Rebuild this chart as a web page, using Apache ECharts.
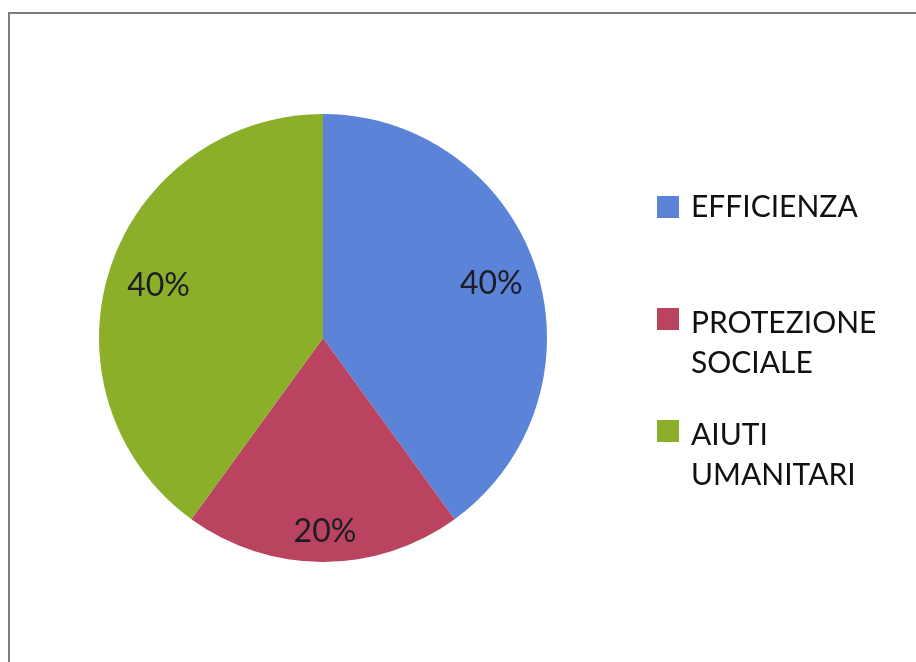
<!DOCTYPE html>
<html>
<head>
<meta charset="utf-8">
<script src="https://cdn.jsdelivr.net/npm/echarts@6/dist/echarts.min.js"></script>
<style>
html,body{margin:0;padding:0;background:#fff;}
#chart{width:916px;height:662px;}
</style>
</head>
<body>
<div id="chart"></div>
<script>
// Data
const categories = ['EFFICIENZA', 'PROTEZIONE SOCIALE', 'AIUTI UMANITARI'];
const values = [40, 20, 40];

// Styles
const colors = ['#5b84d8', '#ba4460', '#8caf2a'];
const labelOffsets = [[59, -19], [2, 79], [-55, -17]];
const legendTops = [187, 255, 367];

const chart = echarts.init(document.getElementById('chart'), null, {renderer: 'canvas'});

function legendText(n) {
  const words = n.split(' ');
  if (words.length === 1) return '{t|' + n + '}';
  return '{e| }\n' + words.map(w => '{t|' + w + '}').join('\n');
}

const legends = categories.map((name, i) => ({
  orient: 'vertical',
  left: 657,
  top: legendTops[i],
  padding: 0,
  itemWidth: 22,
  itemHeight: 22,
  icon: 'rect',
  selectedMode: false,
  data: [name],
  formatter: legendText,
  textStyle: {
    fontFamily: 'Lato',
    fontSize: 30,
    lineHeight: 40,
    color: '#111',
    rich: {
      t: {fontFamily: 'Lato', fontSize: 30, lineHeight: 40, color: '#111', padding: [0, 0, 0, 7]},
      e: {fontFamily: 'Lato', fontSize: 30, lineHeight: 48, color: '#111'}
    }
  }
}));

chart.setOption({
  animation: false,
  backgroundColor: '#ffffff',
  color: colors,
  graphic: [{
    type: 'rect',
    shape: {x: 9, y: 13, width: 1000, height: 1000},
    style: {fill: 'none', stroke: '#7d7d7d', lineWidth: 2},
    silent: true
  }],
  legend: legends,
  series: [{
    type: 'pie',
    center: [323, 338],
    radius: [0, 224],
    startAngle: 90,
    clockwise: true,
    avoidLabelOverlap: false,
    itemStyle: {borderWidth: 0},
    label: {
      show: true,
      position: 'inside',
      formatter: '{d}%',
      fontFamily: 'Lato',
      fontSize: 32,
      color: '#1c1c24'
    },
    labelLine: {show: false},
    emphasis: {disabled: true},
    data: categories.map((name, i) => ({
      name: name,
      value: values[i],
      label: {offset: labelOffsets[i]}
    }))
  }]
});
</script>
</body>
</html>
